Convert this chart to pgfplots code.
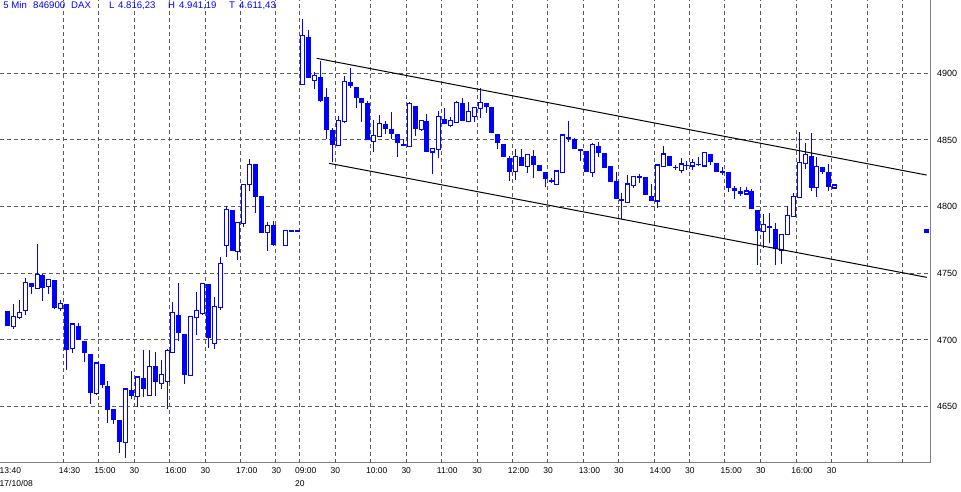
\documentclass[border=0pt]{standalone}
\usepackage{pgfplots}
\pgfplotsset{compat=1.18}
\usepackage{pgfplotstable}
\usepackage{fontspec}
\setmainfont{Liberation Sans}
\definecolor{cblue}{RGB}{0,0,255}
\definecolor{gridc}{RGB}{90,90,90}
\definecolor{axisc}{RGB}{128,128,128}
\newcommand\tfont{\fontsize{8.5bp}{13bp}\selectfont}
\newcommand\yfont{\fontsize{9bp}{11bp}\selectfont}
\newcommand\hfont{\fontsize{9.6bp}{11bp}\selectfont}
\newcommand\snapx{(floor((\thisrow{i}+1.27)*5.90814)+0.5)/5.90814-1.27}

\pgfplotstableread{
i O H L C
0 4721.8 4721.8 4710.8 4710.8
4 4742.5 4742.5 4734.8 4740
6 4748.5 4749.5 4729.3 4739.3
8 4745 4745 4723.3 4724.3
10 4727 4727 4677.8 4692.8
12 4710.5 4713 4700 4700
13 4699.3 4699.3 4683.8 4690.5
14 4689.5 4689.5 4652 4660.5
16 4682 4682 4664 4666
17 4665.5 4669.3 4638 4647.8
18 4648.3 4648.3 4637 4640.3
19 4640 4640 4615.5 4623.8
21 4662.5 4676.8 4655.5 4658.3
23 4671.5 4692.5 4657 4663
25 4680.3 4691 4658.3 4668.8
29 4718.5 4742.8 4699.5 4705
30 4704.5 4704.5 4667 4674
34 4742 4742 4694.3 4701.8
38 4797.5 4797.5 4767 4767
42 4832 4832 4795.5 4807.5
43 4808 4808 4780.5 4780.5
45 4786 4789.3 4770.8 4771.5
48 4782.3 4782.3 4781.3 4781.3
49 4782.3 4782.3 4781.3 4781.3
51 4927 4932.5 4896.8 4896.8
53 4897.3 4909.3 4878.8 4879.5
54 4882.3 4888.8 4850.8 4857.8
55 4857.3 4858.8 4833.3 4846.5
58 4893.5 4904 4889.3 4890.8
59 4889.8 4889.8 4874.3 4881.8
60 4881.5 4881.5 4863.8 4877.8
61 4877.8 4879.3 4850 4850
64 4862 4864.3 4854.3 4858.5
65 4858.3 4871 4851 4854.8
66 4854.5 4854.5 4837.5 4847.5
67 4847.3 4850.5 4845.8 4845.8
69 4875.5 4875.5 4853.3 4858
71 4864.3 4869.5 4841.3 4841.3
74 4865.8 4873.8 4861.8 4861.8
77 4877.5 4881.8 4864.5 4864.5
81 4877.8 4877.8 4870 4875
82 4874.8 4874.8 4855 4855
83 4854.5 4854.5 4843.5 4847.5
84 4847 4847 4837.5 4837.5
85 4836.5 4838 4819.5 4825.8
87 4837.3 4843 4830.8 4830.8
89 4838 4842.5 4821.3 4831.5
90 4831.3 4831.3 4827 4827
91 4826 4826 4814.5 4821
92 4820 4821.3 4817.5 4818.3
95 4852 4864.3 4848.8 4851
96 4850.8 4851.5 4843.5 4843.5
97 4843 4843 4834.3 4842
98 4841.8 4841.8 4826 4826
100 4845.8 4848.5 4837.3 4840
101 4840.5 4840.5 4829.3 4829.3
102 4830.5 4830.5 4818.5 4818.5
103 4819.3 4825.8 4805.5 4805.5
104 4805.8 4810 4790.8 4804.3
107 4822.8 4824.3 4818 4821.5
108 4822.3 4822.3 4809 4809
109 4808 4817 4804.5 4804.5
112 4838 4838 4830.5 4830.5
113 4829.8 4831.3 4827.5 4829
115 4831.3 4834.5 4827.5 4830.8
117 4831.8 4837.5 4830.8 4831
119 4839.5 4839.5 4831.5 4833.3
120 4832.8 4832.8 4826.3 4826.3
121 4826.8 4830 4823.8 4825.5
122 4826 4826 4811.3 4814
123 4814 4815.8 4806 4812
124 4811.8 4815 4808 4809.8
126 4812 4813 4798 4798
127 4797.5 4797.5 4756.5 4782
129 4785.3 4795.5 4772.5 4784
130 4783.3 4788 4756 4768
136 4838 4855 4812 4814
138 4829.8 4829.8 4824.5 4826.3
139 4826 4832.3 4812 4815
}\bear

\pgfplotstableread{
i O H L C
1 4710.3 4727 4708.5 4717.8
2 4717 4730 4716 4720.8
3 4722.3 4746.5 4719 4743.3
5 4738.8 4772 4738.8 4749.3
7 4740.3 4745.5 4734.5 4745.5
9 4723.8 4730 4722 4727.5
11 4693.8 4712 4690.5 4712
15 4659.8 4683.5 4658.8 4682.8
20 4623.3 4663.3 4611.8 4663.3
22 4657.5 4673 4649.5 4672.3
24 4658.5 4692.5 4658.5 4680.3
26 4667.5 4685 4663.5 4674.3
27 4669 4693 4648.5 4692.3
28 4690.8 4728.5 4690 4720.8
31 4673.3 4717.8 4673.3 4717.8
32 4717 4736 4704 4722.3
33 4720 4742.5 4718.8 4742.5
35 4697.5 4732.3 4693.3 4725.3
36 4724.3 4762.5 4722.5 4757.5
37 4770.8 4800.5 4762.5 4798
39 4766.5 4788.3 4760 4788.3
40 4787.5 4816.8 4785 4816.8
41 4816.8 4835.8 4812 4831.8
44 4780.8 4788.3 4767 4786
47 4771 4782.3 4771 4782.3
50 4891.8 4940.8 4891.8 4928.5
52 4894.8 4900.8 4888 4898.5
56 4846 4868 4846 4864.8
57 4864 4898 4863 4894
62 4849 4865 4841.3 4853.5
63 4852.8 4868.8 4852.8 4862.5
68 4845.3 4878.3 4845.3 4877.5
70 4858 4864.8 4857 4864.8
72 4841 4843.8 4824.3 4843.8
73 4843 4872 4836.3 4867.5
75 4860.8 4867.5 4860 4864.8
76 4863.3 4879.5 4863.3 4878.3
78 4864 4878.5 4864 4871.5
79 4867.8 4874.5 4863.8 4874.5
80 4873.8 4888.8 4866.8 4878.3
86 4826.3 4843 4820 4837.8
88 4830 4839.3 4825.5 4839.3
93 4816.8 4826.8 4816.8 4826.8
94 4825.5 4854.3 4825.5 4853.8
99 4825.8 4847.5 4822.5 4846.5
105 4803.3 4824 4803.3 4817
106 4815.8 4823.3 4814.3 4822.8
110 4804.3 4831.3 4799.3 4831.3
111 4830 4845.8 4830 4839.5
114 4827.3 4836.3 4825.5 4832
116 4830.5 4835.5 4827.5 4833
118 4830.5 4840.5 4830.5 4840.5
125 4809.5 4815 4809.5 4811.8
128 4781.5 4794.3 4768.8 4786.8
131 4767.5 4779.3 4757 4779.3
132 4779.3 4800.5 4779.3 4793.3
133 4792.5 4810.5 4792.5 4807.8
134 4807 4855.8 4807 4833.3
135 4832.5 4847.5 4828 4839
137 4814.5 4837.5 4807.5 4830.3
140 4814 4816.8 4814 4816.2
}\bull

\begin{document}
\begin{tikzpicture}
\path[use as bounding box] (0bp,0bp) rectangle (961bp,492bp);
\begin{axis}[
  at={(0bp,29bp)}, anchor=south west,
  scale only axis, width=930bp, height=463bp,
  xmin=-1.27, xmax=156.14, ymin=4607.75, ymax=4955,
  axis x line=bottom, axis y line=right,
  axis line style={-, draw=axisc, line width=1bp},
  major tick length=0pt,
  xtick={-0.5,9.5,15.5,21.5,27.5,33.5,39.5,45.5,49.5,55.5,61.5,67.5,73.5,79.5,85.5,91.5,97.5,103.5,109.5,115.5,121.5,127.5,133.5,139.5},
  xticklabels={{13:40\\17/10/08},14:30,15:00,30,16:00,30,17:00,30,{09:00\\20},30,10:00,30,11:00,30,12:00,30,13:00,30,14:00,30,15:00,30,16:00,30},
  extra x ticks={9.48,15.47,21.47,27.46,33.45,39.45,45.44,49.50,55.5,61.5,67.5,73.49,79.48,85.48,91.47,97.47,103.46,109.45,115.45,121.44,127.44,133.5,139.5,145.49,151.48},
  extra x tick labels={},
  extra x tick style={grid=major, major tick length=0pt},
  ytick={4650,4700,4750,4800,4850,4900},
  yticklabels={4650,4700,4750,4800,4850,4900},
  ymajorgrids,
  grid style={draw=gridc, dash pattern=on 4bp off 3bp, line width=1bp},
  xticklabel style={anchor=north west, xshift=-5bp, yshift=-4bp, inner sep=0pt, align=left, font=\tfont, text=black},
  yticklabel style={anchor=west, inner sep=0pt, xshift=7bp, font=\yfont, text=black},
  error bars/y dir=plus, error bars/y explicit, error bars/error mark=none,
]
% wicks
\addplot[draw=none, mark=none, forget plot, error bars/error bar style={draw=cblue, line width=1.4bp}]
  table[x expr=\snapx, y=L, y error expr=\thisrow{H}-\thisrow{L}] {\bear};
\addplot[draw=none, mark=none, forget plot, error bars/error bar style={draw=cblue, line width=1.4bp}]
  table[x expr=\snapx, y=L, y error expr=\thisrow{H}-\thisrow{L}] {\bull};
% bear bodies
\addplot[draw=none, mark=none, forget plot, error bars/error bar style={draw=cblue, line width=5bp}]
  table[x expr=\snapx, y=C, y error expr={max(\thisrow{O}-\thisrow{C},0.75)}] {\bear};
% bull bodies: blue outline, white inside
\addplot[draw=none, mark=none, forget plot, error bars/error bar style={draw=cblue, line width=5.6bp}]
  table[x expr=\snapx, y expr=\thisrow{O}-0.55, y error expr={\thisrow{C}-\thisrow{O}+1.1}] {\bull};
\addplot[draw=none, mark=none, forget plot, error bars/error bar style={draw=white, line width=2.8bp}]
  table[x expr=\snapx, y expr=\thisrow{O}+0.5, y error expr={max(\thisrow{C}-\thisrow{O}-1.0,0)}] {\bull};
% channel
\addplot[black, line width=1bp, mark=none] coordinates {(52.33,4911.25) (155.58,4823.7)};
\addplot[black, line width=1bp, mark=none] coordinates {(54.42,4832.5) (155.58,4747)};
% previous close marker
\addplot[cblue, only marks, mark=square*, mark size=1.6bp] coordinates {(155.5,4781.7)};
\end{axis}
\begin{scope}[every node/.style={anchor=base west, inner sep=0pt, text=cblue, font=\hfont}]
\node at (3.3bp,483bp) {5 Min};
\node at (33bp,483bp) {846900};
\node at (71bp,483bp) {DAX};
\node at (109bp,483bp) {L};
\node at (118bp,483bp) {4.816,23};
\node at (168bp,483bp) {H};
\node at (179bp,483bp) {4.941,19};
\node at (229bp,483bp) {T};
\node at (239bp,483bp) {4.611,43};
\end{scope}
\end{tikzpicture}
\end{document}
